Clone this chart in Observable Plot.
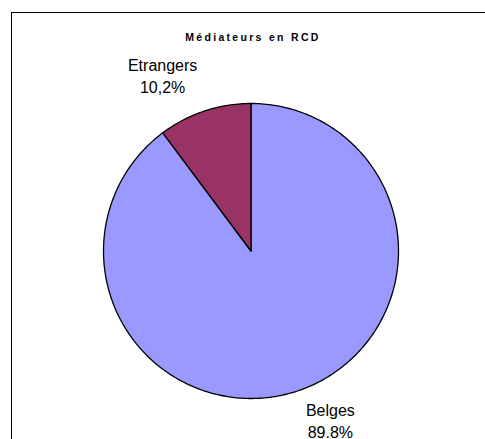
<!DOCTYPE html>
<html>
<head>
<meta charset="utf-8">
<script src="https://cdn.jsdelivr.net/npm/d3@7"></script>
<script src="https://cdn.jsdelivr.net/npm/@observablehq/plot@0.6"></script>
<style>
  html, body { margin: 0; padding: 0; background: #fff; overflow: hidden; }
  #wrap { position: relative; width: 485px; height: 439px; }
  #border { position: absolute; left: 11px; top: 12px; width: 520px; height: 520px; border: 1.5px solid #000; pointer-events: none; }
  svg { display: block; }
</style>
</head>
<body>
<div id="wrap"><div id="chart"></div><div id="border"></div></div>
<script>
const title = "Médiateurs en RCD";
const categories = ["Belges", "Etrangers"];
const values = [89.8, 10.2];
const valueLabels = ["89.8%", "10,2%"];
const colors = ["#9999FF", "#993366"];

const total = d3.sum(values);
const wedges = [];
const labels = [];
let cum = 0;
values.forEach((v, i) => {
  const a0 = cum / total * 2 * Math.PI;
  cum += v;
  const a1 = cum / total * 2 * Math.PI;
  const n = Math.max(4, Math.ceil((a1 - a0) / (Math.PI / 180)));
  wedges.push({cat: categories[i], x: 0, y: 0});
  for (let k = 0; k <= n; k++) {
    const a = a0 + (a1 - a0) * k / n;
    wedges.push({cat: categories[i], x: Math.sin(a), y: Math.cos(a)});
  }
  wedges.push({cat: categories[i], x: 0, y: 0});
  const am = (a0 + a1) / 2;
  labels.push({cat: categories[i], x: 1.235 * Math.sin(am), y: 1.235 * Math.cos(am), text: categories[i] + "\n" + valueLabels[i]});
});

const font = "'Liberation Sans', Arial, sans-serif";
const chart = Plot.plot({
  width: 485,
  height: 439,
  marginLeft: 103,
  marginRight: 87,
  marginTop: 103,
  marginBottom: 41,
  x: {domain: [-1, 1], axis: null},
  y: {domain: [-1, 1], axis: null},
  color: {domain: categories, range: colors},
  style: {fontFamily: font, background: "transparent"},
  marks: [
    Plot.line(wedges, {x: "x", y: "y", z: "cat", fill: "cat", stroke: "#000", strokeWidth: 1.3, strokeLinejoin: "round", curve: "linear"}),
    Plot.text(labels.filter(d => d.cat === "Etrangers"), {x: "x", y: "y", text: "text", dx: -31, dy: -3, fontSize: 16, lineHeight: 1.4, fill: "#000", fontFamily: font}),
    Plot.text(labels.filter(d => d.cat === "Belges"), {x: "x", y: "y", text: "text", dx: 22, dy: -4, fontSize: 16, lineHeight: 1.4, fill: "#000", fontFamily: font}),
    Plot.text([title], {frameAnchor: "top", text: d => d, dx: 2, dy: -70, fontSize: 10.5, fontWeight: "bold", fill: "#000", fontFamily: font})
  ]
});
chart.querySelectorAll("text").forEach(t => {
  if (t.textContent === title) t.style.letterSpacing = "2.3px";
});
document.getElementById("chart").appendChild(chart);
</script>
</body>
</html>
